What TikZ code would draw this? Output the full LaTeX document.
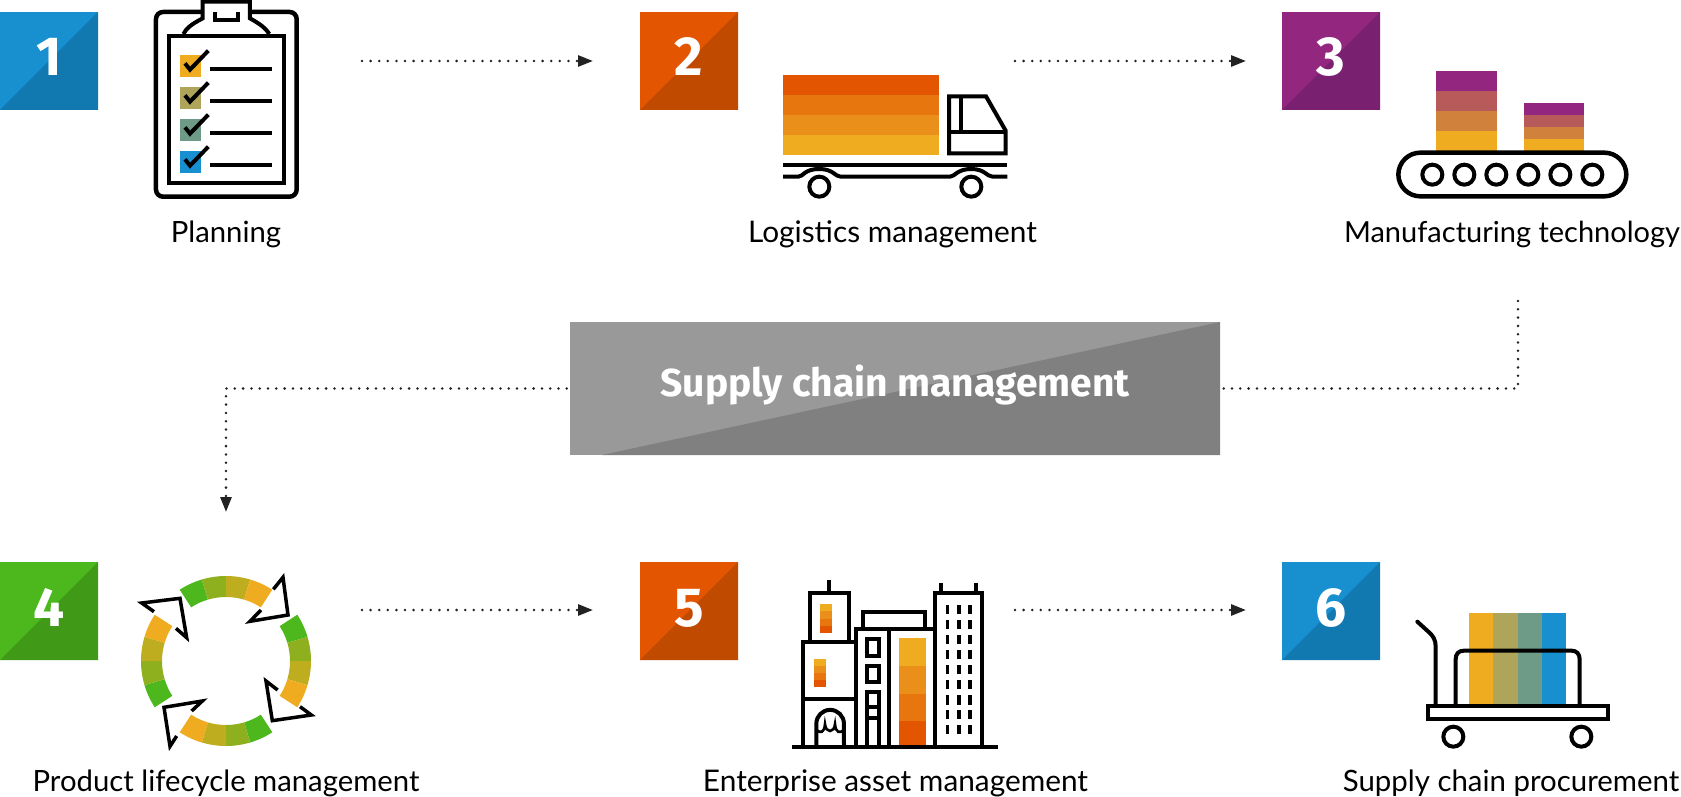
\documentclass[tikz,border=0pt]{standalone}
\usepackage{fontspec}
\setmainfont{Lato}
\newfontfamily\numfont{Fira Sans}
\usetikzlibrary{arrows.meta}
\definecolor{cyel}{HTML}{EFAC20}
\definecolor{cor1}{HTML}{EB8F1B}
\definecolor{cor2}{HTML}{E8760F}
\definecolor{cor3}{HTML}{E35500}
\definecolor{cblue}{HTML}{1890D0}
\definecolor{cbluD}{HTML}{1278B0}
\definecolor{corgD}{HTML}{C04A00}
\definecolor{cpur}{HTML}{93267F}
\definecolor{cpurD}{HTML}{7A2070}
\definecolor{cgrn}{HTML}{4DB81E}
\definecolor{cgrnD}{HTML}{409A18}
\definecolor{colv}{HTML}{AEA45A}
\definecolor{cteal}{HTML}{6E9B88}
\definecolor{cm2}{HTML}{B85A5A}
\definecolor{cm3}{HTML}{D0813C}
\definecolor{cg2}{HTML}{8FB01E}
\definecolor{cg3}{HTML}{BFAD20}
\definecolor{arrowc}{HTML}{222222}
\tikzset{
  numbox/.style 2 args={minimum size=98pt,inner sep=0pt,fill=#1,text=white,text height=38pt,text depth=8pt,
    font=\numfont\bfseries\fontsize{55}{55}\selectfont,
    path picture={\fill[#2] (path picture bounding box.north east) -- (path picture bounding box.south west) -- (path picture bounding box.south east) -- cycle;}},
  lab/.style={anchor=base,inner sep=0pt,font=\fontsize{#1}{34}\selectfont,text=black},
  flow/.style={line width=2.8pt,color=arrowc,line cap=round,dash pattern=on 0pt off 8.6pt},
  flowtip/.style={-{Triangle[length=15pt,width=11pt,color=arrowc,line cap=butt]}},
  ic/.style={line width=4pt,draw=black,miter limit=10},
  zoomed/.style={x=0.33333pt,y=-0.33333pt},
}
\begin{document}
\begin{tikzpicture}[x=1pt,y=-1pt]
\useasboundingbox (0,0) rectangle (1681,797);
% number squares
\node[numbox={cblue}{cbluD}] (n1) at (49,61) {1};
\node[numbox={cor3}{corgD}] (n2) at (689,61) {2};
\node[numbox={cpur}{cpurD}] (n3) at (1331,61) {3};
\node[numbox={cgrn}{cgrnD}] (n4) at (49,611) {4};
\node[numbox={cor3}{corgD}] (n5) at (689,611) {5};
\node[numbox={cblue}{cbluD}] (n6) at (1331,611) {6};
% labels
\node[lab=29.3] (l1) at (226,242) {Planning};
\node[lab=29.8] (l2) at (892.5,242) {Logistics management};
\node[lab=29] (l3) at (1512,242) {Manufacturing technology};
\node[lab=29.3] (l4) at (226,791) {Product lifecycle management};
\node[lab=29.8] (l5) at (895.5,791) {Enterprise asset management};
\node[lab=29.4] (l6) at (1511,791) {Supply chain procurement};
% central box
\node[minimum width=650pt,minimum height=133pt,inner sep=0pt,fill=black!40,text=white,text height=29pt,text depth=14pt,
  font=\numfont\bfseries\fontsize{39}{44}\selectfont,
  path picture={\fill[black!50] (path picture bounding box.north east) -- ([xshift=32pt]path picture bounding box.south west) -- (path picture bounding box.south east) -- cycle;}]
  (hub) at (895,388.5) {Supply chain management};
% connectors
\coordinate (a1s) at (362,61); \coordinate (a1e) at (593,61);
\coordinate (a2s) at (1015,61); \coordinate (a2e) at (1246,61);
\coordinate (a3s) at (362,610); \coordinate (a3e) at (593,610);
\coordinate (a4s) at (1015,610); \coordinate (a4e) at (1246,610);
\coordinate (r1) at (1518,301); \coordinate (l1e) at (226,512);
\draw[flow,flowtip] (a1s) -- (a1e);
\draw[flow,flowtip] (a2s) -- (a2e);
\draw[flow,flowtip] (a3s) -- (a3e);
\draw[flow,flowtip] (a4s) -- (a4e);
\draw[flow,dash pattern=on 0pt off 8.3pt] (r1) |- ([xshift=3pt]hub.east);
\draw[flow,dash pattern=on 0pt off 8.3pt,flowtip] ([xshift=-3pt]hub.west) -| (l1e);
% clipboard
\begin{scope}[zoomed]
\draw[ic,line width=4.5pt,fill=white,rounded corners=7pt] (468,36) rectangle (890,590);
\draw[ic,fill=white] (550,102) .. controls (560,85) and (570,75) .. (608,55) -- (608,5) -- (750,5) -- (750,55) .. controls (785,75) and (797,85) .. (808,102);
\draw[ic,fill=white] (506,108) rectangle (851,549);
\draw[ic] (645,35) -- (645,60) -- (713,60) -- (713,35);
\foreach \yy/\cc in {0/cyel,96/colv,192/cteal,288/cblue}{
  \fill[\cc] (540,165+\yy) rectangle (603,230+\yy);
  \draw[ic] (630,207+\yy) -- (815,207+\yy);
  \draw[ic] (555,190+\yy) -- (570,209+\yy) -- (625,152+\yy);
}
\end{scope}
% truck
\begin{scope}[zoomed,shift={(630pt,0pt)}]
\fill[cor3] (459,224) rectangle (928,285);
\fill[cor2] (459,285) rectangle (928,345);
\fill[cor1] (459,345) rectangle (928,405);
\fill[cyel] (459,405) rectangle (928,465);
\draw[ic] (957,289) -- (1068,289) -- (1127,392) -- (1127,460) -- (957,460) -- cycle;
\draw[ic] (957,397) -- (1127,397);
\draw[ic] (994,289) -- (994,397);
\draw[ic] (459,494) -- (1132,494);
\draw[ic] (459,530) -- (505,530) .. controls (520,530) and (522,507) .. (568,507) .. controls (610,507) and (615,530) .. (632,530) -- (960,530) .. controls (975,530) and (980,507) .. (1024,507) .. controls (1065,507) and (1070,530) .. (1088,530) -- (1132,530);
\draw[ic] (568,560) circle[radius=10pt];
\draw[ic] (1024,560) circle[radius=10pt];
\end{scope}
% conveyor
\begin{scope}[zoomed,shift={(1270pt,0pt)}]
\fill[cpur] (498,212) rectangle (680,272);
\fill[cm2] (498,272) rectangle (680,332);
\fill[cm3] (498,332) rectangle (680,392);
\fill[cyel] (498,392) rectangle (680,455);
\fill[cpur] (762,308) rectangle (943,344);
\fill[cm2] (762,344) rectangle (943,380);
\fill[cm3] (762,380) rectangle (943,416);
\fill[cyel] (762,416) rectangle (943,455);
\draw[ic,line width=4.5pt,rounded corners=22pt] (385,458) rectangle (1069,589);
\foreach \xx in {487,583,679,775,871,967}
  \draw[ic] (\xx,524) circle[radius=10pt];
\end{scope}
% cycle
\begin{scope}[x=1pt,y=1pt,shift={(226pt,-661pt)}]
\foreach \base in {123,33,-57,-147}{
  \foreach \i/\cc in {0/cgrn,1/cg2,2/cg3,3/cyel}{
    \pgfmathsetmacro{\aa}{\base-16.5*\i}
    \pgfmathsetmacro{\bb}{\base-16.5*(\i+1)}
    \fill[\cc] (\aa:85) arc[start angle=\aa,end angle=\bb,radius=85pt] -- (\bb:64) arc[start angle=\bb,end angle=\aa,radius=64pt] -- cycle;
  }
}
\end{scope}
\begin{scope}[zoomed,shift={(0pt,-550pt)}]
\draw[ic,line width=3.5pt] (820,118) -- (849,82) -- (864,195) -- (750,214) -- (783,180);
\draw[ic,line width=3.5pt] (462,185) -- (425,159) -- (540,145) -- (560,263) -- (528,235);
\draw[ic,line width=3.5pt] (833,420) -- (798,393) -- (817,512) -- (934,495) -- (900,470);
\draw[ic,line width=3.5pt] (575,483) -- (607,453) -- (492,472) -- (510,589) -- (530,558);
\end{scope}
% buildings
\begin{scope}[zoomed,shift={(770pt,-570pt)}]
\foreach \y/\z/\cc in {103/124/cyel,124/146/cor1,146/168/cor2,168/190/cor3}
  \fill[\cc] (151,\y) rectangle (187,\z);
\foreach \y/\z/\cc in {266/287/cyel,287/309/cor1,309/331/cor2,331/352/cor3}
  \fill[\cc] (131,\y) rectangle (167,\z);
\foreach \y/\z/\cc in {205/288/cyel,288/371/cor1,371/453/cor2,453/525/cor3}
  \fill[\cc] (387,\y) rectangle (467,\z);
\draw[ic] (177,30) -- (177,70);
\draw[ic] (120,215) -- (120,70) -- (237,70) -- (237,215);
\draw[ic] (100,530) -- (100,217) -- (258,217);
\draw[ic] (100,387) -- (258,387);
\draw[ic] (139,530) -- (139,461) arc[start angle=180,end angle=0,radius=13.8pt] -- (222,530);
\draw[ic,line width=2.6pt] (140,480) .. controls (150,490) and (163,490) .. (165,462) .. controls (167,490) and (193,490) .. (195,462) .. controls (197,490) and (210,490) .. (222,480);
\draw[ic] (258,530) -- (258,177) -- (495,177);
\draw[ic] (358,177) -- (358,530);
\draw[ic] (279,177) -- (279,127) -- (465,127) -- (465,177);
\draw[ic] (290,208) rectangle (328,257);
\draw[ic] (290,287) rectangle (328,335);
\draw[ic] (290,530) -- (290,367) -- (328,367) -- (328,530);
\draw[ic] (290,412) -- (328,412);
\draw[ic] (290,445) -- (328,445);
\draw[ic] (495,530) -- (495,69) -- (637,69) -- (637,530);
\draw[ic] (514,38) -- (514,69);
\draw[ic] (617,38) -- (617,69);
\foreach \yy in {118,164,209,254,299,344,390,434,479}
  \foreach \xx in {532,566,600}
    \fill[black] (\xx-5.5,\yy-14) rectangle (\xx+5.5,\yy+14);
\draw[ic] (67,530) -- (685,530);
\end{scope}
% trolley
\begin{scope}[zoomed,shift={(1390pt,-590pt)}]
\fill[cyel] (237,70) rectangle (310,345);
\fill[colv] (310,70) rectangle (383,345);
\fill[cteal] (383,70) rectangle (455,345);
\fill[cblue] (455,70) rectangle (527,345);
\draw[ic] (197,348) -- (197,208) .. controls (197,192) and (205,182) .. (222,182) -- (545,182) .. controls (560,182) and (569,192) .. (569,208) -- (569,348);
\draw[ic,line cap=round] (82,95) -- (115,125) .. controls (130,138) and (137,150) .. (137,170) -- (137,348);
\draw[ic] (114,349) rectangle (653,387);
\draw[ic] (190,440) circle[radius=10pt];
\draw[ic] (574,440) circle[radius=10pt];
\end{scope}
\end{tikzpicture}
\end{document}
